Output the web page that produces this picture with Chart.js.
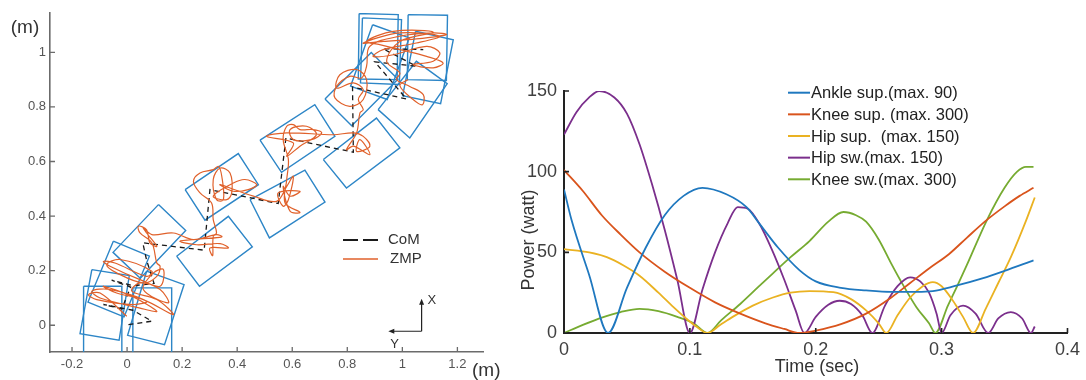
<!DOCTYPE html>
<html>
<head>
<meta charset="utf-8">
<script src="https://cdn.jsdelivr.net/npm/chart.js@4.4.1/dist/chart.umd.min.js"></script>
<style>
  html, body { margin: 0; padding: 0; background: #fff; }
  #wrap { position: relative; width: 1086px; height: 380px; overflow: hidden; }
  #left  { position: absolute; left: 0;     top: 0; }
  #right { position: absolute; left: 500px; top: 0; }
</style>
</head>
<body>
<div id="wrap">
  <canvas id="left"  width="500" height="380"></canvas>
  <canvas id="right" width="586" height="380"></canvas>
</div>
<script>
/* ============================================================
   Left panel — footprints, CoM and ZMP (metres)
   ============================================================ */
const leftXTicks = [-0.2, 0, 0.2, 0.4, 0.6, 0.8, 1, 1.2];
const leftYTicks = [0, 0.2, 0.4, 0.6, 0.8, 1];
const leftLegend = ['CoM', 'ZMP'];
const unitLabel  = '(m)';

/* each footprint = its 4 corners */
const footprints = [
  [[-0.158, 0.143], [-0.019, 0.143], [-0.019, -0.104], [-0.158, -0.104]],
  [[0.021, 0.137], [0.162, 0.137], [0.162, -0.104], [0.021, -0.104]],
  [[-0.128, 0.204], [0.008, 0.182], [-0.029, -0.055], [-0.171, -0.031]],
  [[0.071, 0.198], [0.207, 0.149], [0.136, -0.071], [0.002, -0.037]],
  [[-0.050, 0.308], [0.081, 0.253], [-0.011, 0.031], [-0.142, 0.085]],
  [[0.114, 0.442], [0.213, 0.347], [0.048, 0.172], [-0.051, 0.267]],
  [[0.180, 0.253], [0.368, 0.399], [0.455, 0.287], [0.263, 0.143]],
  [[0.211, 0.497], [0.404, 0.629], [0.477, 0.515], [0.283, 0.385]],
  [[0.447, 0.460], [0.646, 0.568], [0.719, 0.451], [0.517, 0.320]],
  [[0.483, 0.678], [0.682, 0.808], [0.755, 0.692], [0.561, 0.560]],
  [[0.713, 0.607], [0.906, 0.759], [0.991, 0.650], [0.797, 0.503]],
  [[0.719, 0.829], [0.887, 0.999], [0.984, 0.901], [0.816, 0.731]],
  [[0.912, 0.790], [1.051, 0.967], [1.163, 0.885], [1.027, 0.686]],
  [[0.843, 1.142], [0.985, 1.138], [0.981, 0.900], [0.840, 0.902]],
  [[0.855, 1.126], [0.997, 1.120], [0.989, 0.882], [0.848, 0.888]],
  [[0.892, 1.101], [1.025, 1.053], [0.945, 0.827], [0.812, 0.876]],
  [[1.021, 1.138], [1.164, 1.136], [1.160, 0.897], [1.018, 0.900]],
  [[1.048, 1.077], [1.185, 1.046], [1.139, 0.812], [1.001, 0.841]],
];

const comPath = [
  [0.005, 0.002], [0.090, 0.015], [0.021, 0.055], [-0.086, 0.076], [-0.019, 0.060],
  [0.013, 0.140], [-0.056, 0.165], [0.023, 0.145], [0.098, 0.153], [0.071, 0.238],
  [0.057, 0.302], [0.280, 0.275], [0.301, 0.497], [0.549, 0.446], [0.577, 0.686],
  [0.822, 0.634], [0.819, 0.873], [1.015, 0.829], [0.900, 0.965], [1.051, 0.949],
  [0.930, 1.013], [1.076, 1.010],
];

const zmpPath = [
  [-0.001, 0.033], [-0.098, 0.118], [-0.140, 0.112], [-0.110, 0.094], [0.023, 0.076],
  [0.071, 0.088], [-0.062, 0.131], [-0.128, 0.125], [-0.098, 0.100], [0.047, 0.063],
  [0.108, 0.051], [0.017, 0.106], [-0.086, 0.143], [-0.038, 0.118], [0.059, 0.094],
  [0.168, 0.039], [0.108, 0.094], [0.017, 0.125], [0.047, 0.155], [0.120, 0.131],
  [0.150, 0.082], [0.059, 0.131], [0.096, 0.192], [0.132, 0.204], [0.120, 0.143],
  [0.047, 0.167], [-0.062, 0.216], [-0.086, 0.234], [-0.044, 0.228], [0.071, 0.179],
  [0.090, 0.198], [-0.025, 0.241], [-0.074, 0.222], [-0.038, 0.192], [0.059, 0.155],
  [0.108, 0.179], [0.120, 0.216],
  [0.108, 0.228], [0.090, 0.302], [0.047, 0.338], [0.041, 0.363], [0.071, 0.350],
  [0.083, 0.302], [0.108, 0.289], [0.071, 0.338], [0.059, 0.357], [0.090, 0.332],
  [0.168, 0.338], [0.241, 0.314], [0.325, 0.332], [0.344, 0.324], [0.265, 0.316],
  [0.192, 0.308], [0.253, 0.295], [0.338, 0.299], [0.368, 0.283], [0.301, 0.283],
  [0.311, 0.255], [0.313, 0.326], [0.325, 0.338],
  [0.313, 0.387], [0.307, 0.448], [0.265, 0.485], [0.241, 0.527], [0.265, 0.558],
  [0.313, 0.570], [0.332, 0.582], [0.344, 0.546], [0.350, 0.460], [0.325, 0.460],
  [0.313, 0.534], [0.338, 0.576], [0.374, 0.558], [0.380, 0.485], [0.362, 0.460],
  [0.313, 0.473], [0.386, 0.521], [0.428, 0.534], [0.471, 0.515], [0.440, 0.497],
  [0.386, 0.491], [0.338, 0.515],
  [0.459, 0.473], [0.543, 0.454], [0.580, 0.509], [0.604, 0.546], [0.586, 0.460],
  [0.567, 0.436], [0.549, 0.485], [0.628, 0.491], [0.592, 0.473], [0.567, 0.509],
  [0.592, 0.418], [0.628, 0.414], [0.574, 0.448],
  [0.580, 0.534], [0.586, 0.607], [0.567, 0.680], [0.580, 0.729], [0.604, 0.735],
  [0.628, 0.717], [0.676, 0.717], [0.707, 0.705], [0.670, 0.680], [0.604, 0.680],
  [0.592, 0.717], [0.652, 0.729], [0.688, 0.698], [0.628, 0.656], [0.580, 0.619],
  [0.604, 0.668], [0.507, 0.692], [0.580, 0.705], [0.749, 0.698],
  [0.822, 0.705], [0.858, 0.692], [0.882, 0.656], [0.834, 0.637], [0.846, 0.680],
  [0.882, 0.625], [0.822, 0.656], [0.797, 0.643], [0.834, 0.705], [0.846, 0.778],
  [0.858, 0.790], [0.840, 0.827], [0.858, 0.863],
  [0.822, 0.888], [0.761, 0.869], [0.773, 0.918], [0.834, 0.937], [0.870, 0.900],
  [0.858, 0.827], [0.809, 0.802], [0.755, 0.833], [0.761, 0.875], [0.809, 0.912],
  [0.852, 0.906], [0.870, 0.949],
  [0.882, 1.022], [0.991, 1.059], [1.112, 1.071], [1.160, 1.065], [1.051, 1.049],
  [0.930, 1.040], [0.858, 1.034], [0.991, 1.071], [1.136, 1.059], [1.051, 1.034],
  [0.930, 1.010], [0.894, 0.985], [0.967, 0.991], [1.088, 1.022], [1.136, 0.998],
  [1.112, 0.967], [1.039, 0.955], [1.112, 0.943], [1.148, 0.961], [1.088, 0.985],
  [0.991, 1.010], [0.918, 1.028], [0.870, 1.040], [0.967, 1.077], [1.112, 1.074],
  [0.991, 1.040], [0.943, 0.967], [0.991, 0.924], [0.979, 0.900], [1.027, 0.875],
  [1.076, 0.845], [1.073, 0.808], [1.039, 0.827], [0.991, 0.878], [1.021, 0.900],
];

/* little X / Y frame in the corner (metres) */
const frameOrigin = [1.07, -0.022];
const frameXTipY  = 0.097;
const frameYTipX  = 0.949;
const frameLabels = ['X', 'Y'];

/* ============================================================
   Right panel — joint power (watt) vs time (sec)
   ============================================================ */
const timeTicks  = [0, 0.1, 0.2, 0.3, 0.4];
const powerTicks = [0, 50, 100, 150];
const timeTitle  = 'Time (sec)';
const powerTitle = 'Power (watt)';
const seriesNames = [
  'Ankle sup.(max. 90)',
  'Knee sup. (max. 300)',
  'Hip sup.  (max. 150)',
  'Hip sw.(max. 150)',
  'Knee sw.(max. 300)',
];

const ankleSup = [
  [0, 89], [0.006, 70], [0.02, 36], [0.035, 0], [0.05, 28], [0.065, 53], [0.08, 73],
  [0.095, 85], [0.11, 90], [0.129, 86], [0.145, 78], [0.156, 67], [0.17, 53],
  [0.187, 39], [0.2, 32], [0.22, 28], [0.24, 26.4], [0.26, 25.5], [0.28, 25.5], [0.293, 26],
  [0.31, 29], [0.333, 34], [0.35, 38.5], [0.373, 45],
];
const kneeSup = [
  [0, 101], [0.015, 88], [0.03, 73], [0.045, 61], [0.06, 50], [0.08, 38], [0.1, 28],
  [0.12, 19], [0.14, 12], [0.16, 6], [0.175, 2.5], [0.187, 0], [0.2, 1.5], [0.22, 5.5],
  [0.24, 12], [0.26, 22], [0.275, 31], [0.29, 40], [0.306, 49], [0.32, 59], [0.335, 69.5],
  [0.35, 78.5], [0.362, 85], [0.373, 90],
];
const hipSup = [
  [0, 52], [0.02, 50], [0.034, 47], [0.047, 42], [0.06, 35.5], [0.075, 25], [0.087, 16],
  [0.097, 9], [0.105, 4], [0.114, 0], [0.124, 5], [0.134, 10], [0.15, 17], [0.166, 22],
  [0.18, 25], [0.195, 26], [0.214, 25.3], [0.228, 21], [0.24, 14], [0.25, 6], [0.256, 0],
  [0.265, 11], [0.275, 22], [0.285, 29], [0.293, 31.5], [0.3, 29], [0.309, 20], [0.317, 10],
  [0.325, 0], [0.335, 15], [0.345, 31], [0.355, 47], [0.367, 69.5], [0.374, 84],
];
const hipSw = [
  [0, 123], [0.01, 137], [0.02, 146], [0.028, 150], [0.04, 146], [0.05, 136], [0.06, 117],
  [0.07, 92], [0.08, 64], [0.09, 33], [0.1, 0], [0.11, 27], [0.12, 50], [0.13, 68],
  [0.138, 78], [0.146, 77], [0.155, 68], [0.165, 52], [0.175, 33], [0.184, 14], [0.191, 0],
  [0.2, 10], [0.21, 17.5], [0.219, 20], [0.228, 18], [0.237, 11], [0.245, 0], [0.255, 17],
  [0.265, 29], [0.275, 34.5], [0.283, 32], [0.29, 25], [0.296, 12], [0.3, 0], [0.307, 11],
  [0.317, 17], [0.327, 12], [0.337, 0], [0.345, 9], [0.355, 13], [0.364, 9], [0.371, 0],
  [0.374, 4],
];
const kneeSw = [
  [0, 0], [0.015, 5], [0.03, 9.5], [0.045, 13], [0.06, 15], [0.075, 13.5], [0.09, 10],
  [0.103, 6], [0.114, 0], [0.125, 8], [0.14, 18], [0.155, 29], [0.166, 37], [0.18, 47],
  [0.195, 57], [0.21, 69], [0.222, 75], [0.232, 73], [0.24, 69], [0.25, 58], [0.26, 43],
  [0.267, 33], [0.28, 16], [0.29, 6], [0.295, 0], [0.305, 17], [0.312, 28.5], [0.32, 42],
  [0.336, 70], [0.35, 90], [0.36, 100], [0.367, 103], [0.373, 103],
];

/* ─── helpers ─────────────────────────────────────────────── */
const FONT    = '"Liberation Sans", Arial, Helvetica, sans-serif';
const pts     = arr => arr.map(p => ({ x: p[0], y: p[1] }));
const closed  = arr => pts(arr.concat([arr[0]]));
const fmtTick = v => String(Math.round(v * 10) / 10);

/* MATLAB-like ticks pointing into the plot */
const innerTicks = {
  id: 'innerTicks',
  afterDatasetsDraw(chart, args, opts) {
    const { ctx, chartArea: a, scales: { x, y } } = chart;
    ctx.save();
    ctx.strokeStyle = opts.color;
    ctx.lineWidth   = opts.width;
    ctx.beginPath();
    x.ticks.forEach(t => {
      const px = x.getPixelForValue(t.value);
      ctx.moveTo(px, a.bottom);
      ctx.lineTo(px, a.bottom - opts.len);
    });
    y.ticks.forEach(t => {
      const py = y.getPixelForValue(t.value);
      ctx.moveTo(a.left, py);
      ctx.lineTo(a.left + opts.len, py);
    });
    ctx.stroke();
    ctx.restore();
  },
};

/* ─── left: legend, frame arrows, units ───────────────────── */
const leftNotes = {
  id: 'leftNotes',
  afterDraw(chart) {
    const { ctx, scales: { x, y } } = chart;
    ctx.save();

    ctx.strokeStyle = '#1a1a1a';
    ctx.lineWidth   = 2;
    ctx.setLineDash([15, 5]);
    ctx.beginPath(); ctx.moveTo(343, 240); ctx.lineTo(378, 240); ctx.stroke();
    ctx.setLineDash([]);
    ctx.strokeStyle = '#e0612b';
    ctx.lineWidth   = 1.5;
    ctx.beginPath(); ctx.moveTo(343, 259); ctx.lineTo(378, 259); ctx.stroke();

    ctx.fillStyle    = '#333';
    ctx.font         = `15px ${FONT}`;
    ctx.textAlign    = 'left';
    ctx.textBaseline = 'middle';
    ctx.fillText(leftLegend[0], 388, 240);
    ctx.fillText(leftLegend[1], 390, 259);

    /* frame arrows */
    const ox = x.getPixelForValue(frameOrigin[0]);
    const oy = y.getPixelForValue(frameOrigin[1]);
    const ty = y.getPixelForValue(frameXTipY);
    const lx = x.getPixelForValue(frameYTipX);
    ctx.strokeStyle = '#222';
    ctx.fillStyle   = '#222';
    ctx.lineWidth   = 1.2;
    ctx.beginPath();
    ctx.moveTo(ox, oy); ctx.lineTo(ox, ty + 4);
    ctx.moveTo(ox, oy); ctx.lineTo(lx + 4, oy);
    ctx.stroke();
    ctx.beginPath();
    ctx.moveTo(ox, ty); ctx.lineTo(ox - 2.5, ty + 6); ctx.lineTo(ox + 2.5, ty + 6); ctx.closePath();
    ctx.moveTo(lx, oy); ctx.lineTo(lx + 6, oy - 2.5); ctx.lineTo(lx + 6, oy + 2.5); ctx.closePath();
    ctx.fill();
    ctx.fillStyle = '#333';
    ctx.font      = `13px ${FONT}`;
    ctx.fillText(frameLabels[0], ox + 6, ty + 2);
    ctx.fillText(frameLabels[1], lx + 2, oy + 13);

    /* units */
    ctx.font = `19px ${FONT}`;
    ctx.textAlign = 'center';
    ctx.fillText(unitLabel, 25, 28);
    ctx.textAlign = 'left';
    ctx.fillText(unitLabel, 472, 371);
    ctx.restore();
  },
};

new Chart(document.getElementById('left'), {
  type: 'scatter',
  data: {
    datasets: [
      { data: pts(zmpPath), borderColor: '#e0612b', borderWidth: 1.2, tension: 0.35,
        showLine: true, pointRadius: 0 },
      { data: pts(comPath), borderColor: '#1a1a1a', borderWidth: 1.3, borderDash: [5, 4],
        showLine: true, pointRadius: 0 },
      ...footprints.map(f => ({
        data: closed(f), borderColor: '#2d86c7', borderWidth: 1.4, showLine: true, pointRadius: 0,
      })),
    ],
  },
  options: {
    responsive: false,
    animation: false,
    devicePixelRatio: 1,
    events: [],
    layout: { padding: { top: 13, right: 17, left: 0, bottom: 0 } },
    plugins: {
      legend: { display: false },
      tooltip: { enabled: false },
      innerTicks: { color: '#6b6b6b', width: 1.3, len: 5 },
    },
    scales: {
      x: {
        type: 'linear', min: -0.28, max: 1.293,
        afterBuildTicks: s => { s.ticks = leftXTicks.map(v => ({ value: v })); },
        afterFit: s => { s.height = 28; },
        grid: { display: false, drawTicks: false },
        border: { display: true, color: '#6b6b6b', width: 1.6 },
        ticks: { autoSkip: false, maxRotation: 0, padding: 5, color: '#555',
                 font: { family: FONT, size: 13 }, callback: fmtTick },
      },
      y: {
        type: 'linear', min: -0.098, max: 1.144,
        afterBuildTicks: s => { s.ticks = leftYTicks.map(v => ({ value: v })); },
        afterFit: s => { s.width = 50; },
        grid: { display: false, drawTicks: false },
        border: { display: true, color: '#6b6b6b', width: 1.6 },
        ticks: { autoSkip: false, padding: 4, color: '#555',
                 font: { family: FONT, size: 13 }, callback: fmtTick },
      },
    },
  },
  plugins: [innerTicks, leftNotes],
});

/* ─── right: legend and axis titles ───────────────────────── */
const rightNotes = {
  id: 'rightNotes',
  afterDraw(chart) {
    const { ctx } = chart;
    ctx.save();
    ctx.font         = `16.5px ${FONT}`;
    ctx.textAlign    = 'left';
    ctx.textBaseline = 'middle';
    chart.data.datasets.forEach((ds, i) => {
      const yy = 92.7 + i * 21.65;
      ctx.strokeStyle = ds.borderColor;
      ctx.lineWidth   = 2;
      ctx.beginPath(); ctx.moveTo(288, yy); ctx.lineTo(310, yy); ctx.stroke();
      ctx.fillStyle = '#222';
      ctx.fillText(ds.label, 311, yy + 1);
    });

    ctx.fillStyle = '#333';
    ctx.font      = `18px ${FONT}`;
    ctx.textAlign = 'center';
    ctx.fillText(timeTitle, 317, 367);
    ctx.translate(29, 240);
    ctx.rotate(-Math.PI / 2);
    ctx.fillText(powerTitle, 0, 0);
    ctx.restore();
  },
};

const powerSeries = [ankleSup, kneeSup, hipSup, hipSw, kneeSw];
const powerColors = ['#1f78bf', '#d9541c', '#eab222', '#7b2f8c', '#76ab31'];

new Chart(document.getElementById('right'), {
  type: 'scatter',
  data: {
    datasets: powerSeries.map((s, i) => ({
      label: seriesNames[i],
      data: pts(s),
      borderColor: powerColors[i],
      borderWidth: 1.8,
      showLine: true,
      pointRadius: 0,
      cubicInterpolationMode: 'monotone',
    })),
  },
  options: {
    responsive: false,
    animation: false,
    devicePixelRatio: 1,
    events: [],
    layout: { padding: { top: 91, right: 16, left: 0, bottom: 0 } },
    plugins: {
      legend: { display: false },
      tooltip: { enabled: false },
      innerTicks: { color: '#222', width: 1.6, len: 5 },
    },
    scales: {
      x: {
        type: 'linear', min: 0, max: 0.4,
        afterBuildTicks: s => { s.ticks = timeTicks.map(v => ({ value: v })); },
        afterFit: s => { s.height = 47; },
        grid: { display: false, drawTicks: false },
        border: { display: true, color: '#222', width: 2 },
        ticks: { autoSkip: false, maxRotation: 0, padding: 6, color: '#404040',
                 font: { family: FONT, size: 18 }, callback: fmtTick },
      },
      y: {
        type: 'linear', min: 0, max: 150,
        afterBuildTicks: s => { s.ticks = powerTicks.map(v => ({ value: v })); },
        afterFit: s => { s.width = 64; },
        grid: { display: false, drawTicks: false },
        border: { display: true, color: '#222', width: 2 },
        ticks: { autoSkip: false, padding: 7, color: '#404040',
                 font: { family: FONT, size: 18 } },
      },
    },
  },
  plugins: [innerTicks, rightNotes],
});
</script>
</body>
</html>
